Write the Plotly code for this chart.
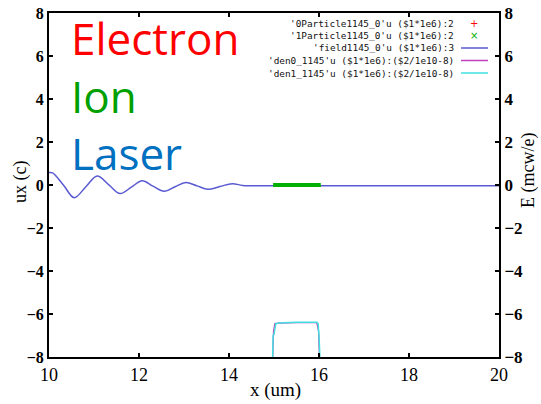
import plotly.graph_objects as go

# Laser field (ux axis, c) along x (um)
laser_x = [10.0, 10.08, 10.32, 10.56, 10.82, 11.07, 11.33, 11.58, 11.83, 12.07, 12.31,
           12.56, 12.8, 13.04, 13.29, 13.53, 13.8, 14.07, 14.3, 14.5, 15.0, 20.0]
laser_ux = [0.58, 0.56, 0.0, -0.59, -0.08, 0.42, 0.01, -0.40, -0.10, 0.20, -0.05,
            -0.29, -0.08, 0.12, -0.04, -0.20, -0.07, 0.06, -0.02, -0.03, -0.03, -0.03]

# Particle slab (electrons under ions)
electron_x = [15.0, 16.0]
electron_ux = [0.0, 0.0]
ion_x = [14.98, 16.04]
ion_ux = [0.0, 0.0]

# Densities, shifted by -8 (den/1e10 - 8)
den0_x = [14.97, 14.99, 15.02, 15.1, 15.5, 15.95, 15.99, 16.01]
den0_v = [-8.0, -6.8, -6.45, -6.42, -6.40, -6.40, -6.8, -8.0]
den1_x = [14.97, 14.98, 15.0, 15.03, 15.04, 15.1, 15.5, 15.95, 15.98, 16.0, 16.02]
den1_v = [-8.0, -7.0, -6.95, -6.6, -6.45, -6.42, -6.38, -6.38, -6.45, -7.0, -8.0]

x_ticks = [10, 12, 14, 16, 18, 20]
y_ticks = [-8, -6, -4, -2, 0, 2, 4, 6, 8]

legend_labels = [
    "'0Particle1145_0'u ($1*1e6):2",
    "'1Particle1145_0'u ($1*1e6):2",
    "'field1145_0'u ($1*1e6):3",
    "'den0_1145'u ($1*1e6):($2/1e10-8)",
    "'den1_1145'u ($1*1e6):($2/1e10-8)",
]

RED = "#ff0000"
GREEN = "#00b000"
BLUE = "#5a5ad2"
MAGENTA = "#c040c0"
CYAN = "#40e0e0"
SERIF = "Liberation Serif, Times New Roman, serif"

fig = go.Figure()
fig.add_trace(go.Scatter(x=laser_x, y=laser_ux, mode="lines",
                         line=dict(color=BLUE, width=1.5, shape="spline", smoothing=1.0)))
fig.add_trace(go.Scatter(x=electron_x, y=electron_ux, mode="lines",
                         line=dict(color=RED, width=3)))
fig.add_trace(go.Scatter(x=ion_x, y=ion_ux, mode="lines",
                         line=dict(color=GREEN, width=4)))
fig.add_trace(go.Scatter(x=den0_x, y=den0_v, mode="lines", yaxis="y2",
                         line=dict(color=MAGENTA, width=1.3)))
fig.add_trace(go.Scatter(x=den1_x, y=den1_v, mode="lines", yaxis="y2",
                         line=dict(color=CYAN, width=1.5)))

# Plot area in pixels
L, R, T, B = 49, 499, 13, 357
W, H = R - L, B - T


def px(xp):
    return (xp - L) / W


def py(yp):
    return (B - yp) / H


# gnuplot-style key: text right-aligned, sample to its right
rows = [23.5, 35.5, 48, 60.5, 73]
ann = []
for lab, yy in zip(legend_labels, rows):
    ann.append(dict(xref="paper", yref="paper", x=px(456), y=py(yy), text=lab,
                    showarrow=False, xanchor="right", yanchor="middle",
                    font=dict(family="DejaVu Sans Mono", size=9.4, color="#111")))
ann.append(dict(xref="paper", yref="paper", x=px(474), y=py(rows[0]), text="+",
                showarrow=False, xanchor="center", yanchor="middle",
                font=dict(family="DejaVu Sans", size=10, color=RED)))
ann.append(dict(xref="paper", yref="paper", x=px(474), y=py(rows[1]), text="×",
                showarrow=False, xanchor="center", yanchor="middle",
                font=dict(family="DejaVu Sans", size=10, color=GREEN)))
shapes = []
for col, yy in zip([BLUE, MAGENTA, CYAN], rows[2:]):
    shapes.append(dict(type="line", xref="paper", yref="paper", x0=px(461), x1=px(488),
                       y0=py(yy), y1=py(yy), line=dict(color=col, width=1.5)))

# Species labels
for txt, col, yy in [("Electron", RED, 38), ("Ion", "#00a000", 96), ("Laser", "#0070c0", 153)]:
    ann.append(dict(xref="paper", yref="paper", x=px(69), y=py(yy), text=txt,
                    showarrow=False, xanchor="left", yanchor="middle",
                    font=dict(family="Open Sans", size=44, color=col)))

# Axis titles
title_font = dict(family=SERIF, size=18, color="black")
ann.append(dict(xref="paper", yref="paper", x=px(20), y=py(182), text="ux (c)", textangle=-90,
                showarrow=False, xanchor="center", yanchor="middle", font=title_font))
ann.append(dict(xref="paper", yref="paper", x=px(528), y=py(171), text="E (mcw/e)", textangle=-90,
                showarrow=False, xanchor="center", yanchor="middle", font=title_font))
ann.append(dict(xref="paper", yref="paper", x=px(275), y=py(390), text="x (um)",
                showarrow=False, xanchor="center", yanchor="middle",
                font=dict(family=SERIF, size=19, color="black")))

axis_common = dict(showgrid=False, zeroline=False, showline=True, linecolor="black",
                   linewidth=2, ticks="inside", ticklen=4, tickcolor="black", tickwidth=1.5,
                   automargin=False)

fig.update_layout(
    width=541, height=404,
    margin=dict(l=L, r=541 - R, t=T, b=404 - B),
    paper_bgcolor="white", plot_bgcolor="white",
    showlegend=False,
    xaxis=dict(range=[10, 20], tickvals=x_ticks, mirror="ticks",
               tickfont=dict(family=SERIF, size=18, color="black"), **axis_common),
    yaxis=dict(range=[-8, 8], tickvals=y_ticks, mirror=True,
               tickfont=dict(family=SERIF, size=16, color="black", weight="bold"),
               **axis_common),
    yaxis2=dict(range=[-8, 8], tickvals=y_ticks, overlaying="y", side="right",
                tickfont=dict(family=SERIF, size=17, color="black", weight="bold"),
                **axis_common),
    annotations=ann,
    shapes=shapes,
)

fig.write_html("out.html")
